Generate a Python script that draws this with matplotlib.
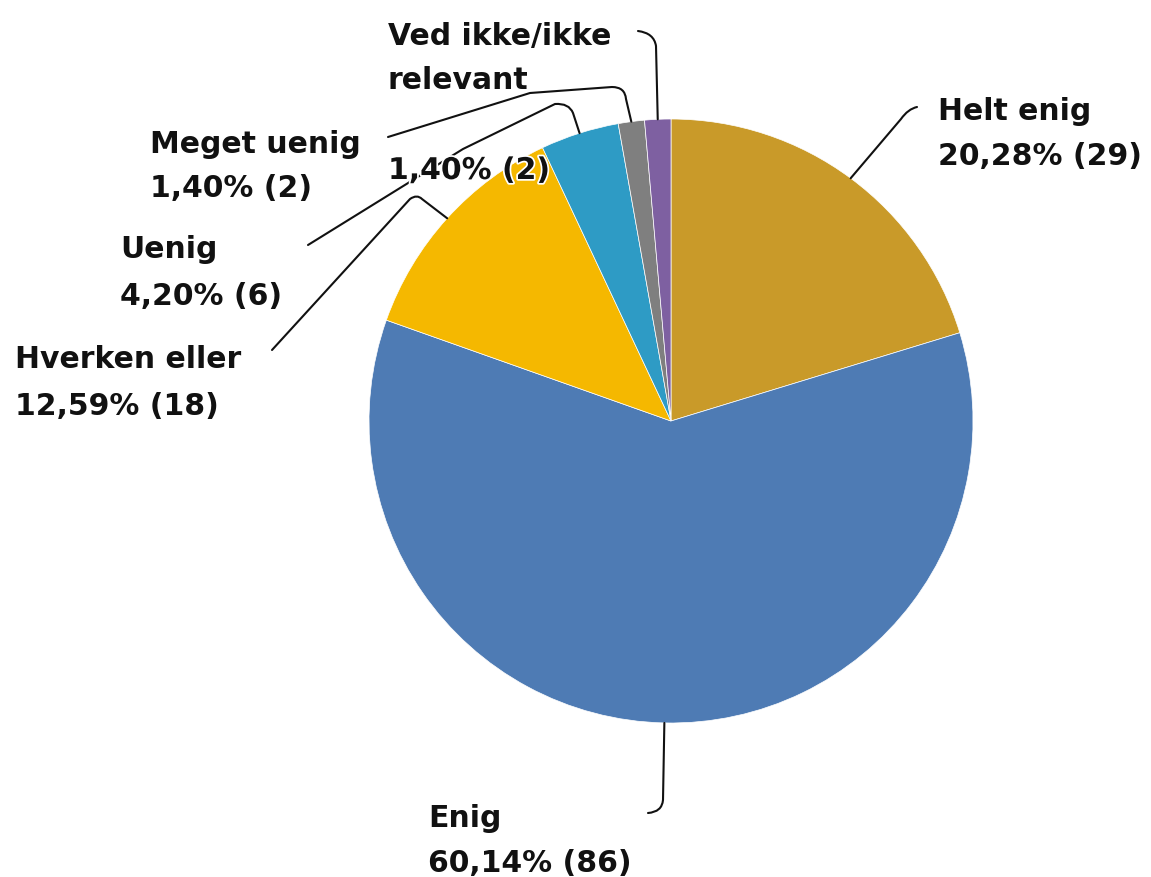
import matplotlib
matplotlib.use("Agg")
import matplotlib.pyplot as plt
import matplotlib.patheffects as pe
from matplotlib.path import Path
from matplotlib.patches import PathPatch
import numpy as np

# ---- data ----
categories = ["Helt enig", "Enig", "Hverken eller", "Uenig", "Meget uenig", "Ved ikke/ikke\nrelevant"]
counts = [29, 86, 18, 6, 2, 2]
pct_labels = ["20,28% (29)", "60,14% (86)", "12,59% (18)", "4,20% (6)", "1,40% (2)", "1,40% (2)"]
colors = ["#C99A29", "#4E7BB4", "#F5B800", "#2E9BC5", "#7F7F7F", "#7E60A1"]

W, H = 1151, 877
fig = plt.figure(figsize=(W / 100, H / 100), dpi=100)
ax = fig.add_axes([0, 0, 1, 1])

def Y(y):
    return H - y

cx, cy, R = 671, 421, 302
wedges, _ = ax.pie(counts, colors=colors, startangle=90, counterclock=False,
                   center=(cx, Y(cy)), radius=R, frame=True,
                   wedgeprops=dict(edgecolor="white", linewidth=0.5))
ax.set_xlim(0, W)
ax.set_ylim(0, H)
ax.set_aspect("equal")
ax.axis("off")

# mid-angle anchors on the pie edge (pixel coords, y down)
anchors = []
for w in wedges:
    mid = np.deg2rad((w.theta1 + w.theta2) / 2)
    anchors.append((cx + R * np.cos(mid), cy - R * np.sin(mid)))

def leader(pts_codes):
    verts = [(x, Y(y)) for (x, y), c in pts_codes]
    codes = [c for _, c in pts_codes]
    p = Path(verts, codes)
    ax.add_patch(PathPatch(p, fill=False, edgecolor="#111111", lw=1.5,
                           capstyle="round", joinstyle="round", zorder=4))

M, L, C = Path.MOVETO, Path.LINETO, Path.CURVE3
a = anchors
# Helt enig
leader([(a[0], M), ((901, 119), L), ((908, 109), C), ((917, 107), C)])
# Enig
leader([(a[1], M), ((663, 800), L), ((662, 812), C), ((648, 813), C)])
# Hverken eller
leader([(a[2], M), ((422, 199), L), ((417, 194), C), ((410, 199), C), ((272, 350), L)])
# Uenig
leader([(a[3], M), ((573, 113), L), ((569, 103), C), ((555, 104), C), ((463, 149), L), ((308, 245), L)])
# Meget uenig
leader([(a[4], M), ((626, 99), L), ((625, 87), C), ((612, 87), C), ((530, 93), L), ((388, 137), L)])
# Ved ikke
leader([(a[5], M), ((656, 46), L), ((654, 33), C), ((638, 31), C)])

FS = 21.5
fam = "DejaVu Sans"

def label(x, y1, t1, y2, t2, halo=False):
    lines = t1.split("\n")
    for i, ln in enumerate(lines):
        ax.text(x, Y(y1 + i * 44), ln, fontsize=FS, fontweight="bold", family=fam,
                ha="left", va="baseline", color="#111111", zorder=6)
    kw = {}
    if halo:
        kw["path_effects"] = [pe.withStroke(linewidth=2.5, foreground="white")]
    ax.text(x, Y(y2), t2, fontsize=FS, fontweight="bold", family=fam,
            ha="left", va="baseline", color="#111111", zorder=6, **kw)

label(938, 120, categories[0], 165, pct_labels[0])
label(428, 827, categories[1], 872, pct_labels[1])
label(15, 368, categories[2], 415, pct_labels[2])
label(120, 258, categories[3], 305, pct_labels[3])
label(150, 153, categories[4], 197, pct_labels[4])
label(388, 45, categories[5], 179, pct_labels[5], halo=True)

fig.savefig("out.png", dpi=100, facecolor="white")
